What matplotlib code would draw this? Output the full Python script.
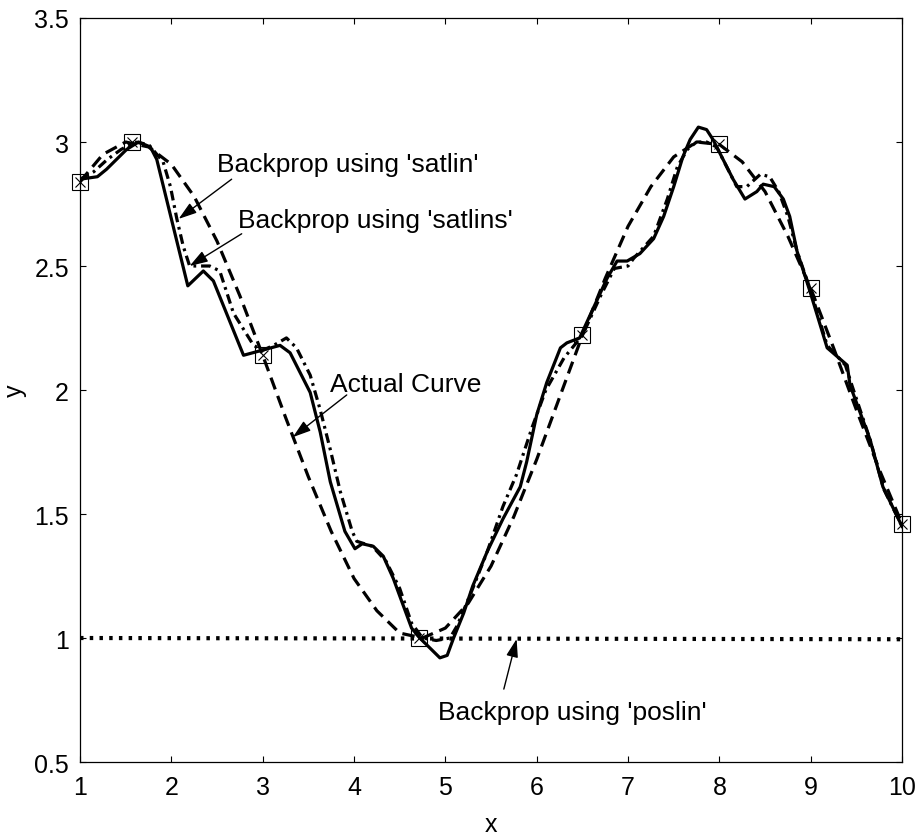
import matplotlib
matplotlib.use("Agg")
import matplotlib.pyplot as plt

plt.rcParams['font.family'] = ['Liberation Sans', 'DejaVu Sans']
plt.rcParams['lines.scale_dashes'] = False

# actual curve, sampled every 0.25
actual_x = [1.0, 1.25, 1.5, 1.75, 2.0, 2.25, 2.5, 2.75, 3.0, 3.25, 3.5, 3.75,
            4.0, 4.25, 4.5, 4.75, 5.0, 5.25, 5.5, 5.75, 6.0, 6.25, 6.5, 6.75,
            7.0, 7.25, 7.5, 7.75, 8.0, 8.25, 8.5, 8.75, 9.0, 9.25, 9.5, 9.75, 10.0]
actual_y = [2.84, 2.95, 3.0, 2.98, 2.91, 2.78, 2.60, 2.38, 2.14, 1.89, 1.65, 1.43,
            1.24, 1.11, 1.02, 1.0, 1.04, 1.14, 1.29, 1.49, 1.72, 1.97, 2.22, 2.45,
            2.66, 2.82, 2.94, 3.0, 2.99, 2.92, 2.80, 2.62, 2.41, 2.17, 1.92, 1.68, 1.46]

# network output with 'satlins' (solid)
satlins_x = [1.0, 1.19, 1.29, 1.40, 1.51, 1.64, 1.77, 1.84, 2.18, 2.35, 2.46, 2.79,
             3.19, 3.30, 3.52, 3.63, 3.74, 3.90, 4.01, 4.09, 4.21, 4.32, 4.43, 4.52,
             4.63, 4.72, 4.83, 4.94, 5.02, 5.09, 5.20, 5.30, 5.46, 5.63, 5.82, 5.89,
             6.0, 6.11, 6.26, 6.33, 6.47, 6.62, 6.77, 6.88, 6.99, 7.13, 7.28, 7.39,
             7.50, 7.60, 7.68, 7.77, 7.86, 7.93, 8.04, 8.15, 8.28, 8.41, 8.48, 8.60,
             8.70, 8.77, 8.85, 8.99, 9.18, 9.40, 9.43, 9.65, 9.79, 10.0]
satlins_y = [2.85, 2.86, 2.89, 2.93, 2.97, 3.0, 2.98, 2.93, 2.42, 2.48, 2.44, 2.14,
             2.18, 2.15, 1.99, 1.83, 1.63, 1.43, 1.36, 1.38, 1.37, 1.33, 1.24, 1.15,
             1.04, 1.0, 0.96, 0.92, 0.93, 1.0, 1.10, 1.21, 1.35, 1.48, 1.61, 1.71,
             1.90, 2.03, 2.17, 2.19, 2.21, 2.33, 2.45, 2.52, 2.52, 2.55, 2.61, 2.70,
             2.82, 2.94, 3.01, 3.06, 3.05, 3.01, 2.93, 2.85, 2.77, 2.80, 2.83, 2.82,
             2.77, 2.70, 2.56, 2.40, 2.17, 2.10, 2.02, 1.80, 1.61, 1.45]

# network output with 'satlin' (dash-dot)
satlin_x = [1.0, 1.15, 1.30, 1.45, 1.60, 1.75, 1.91, 1.99, 2.06, 2.13, 2.20, 2.35,
            2.42, 2.53, 2.68, 2.90, 3.0, 3.12, 3.26, 3.37, 3.52, 3.63, 3.74, 3.85,
            3.98, 4.03, 4.20, 4.35, 4.50, 4.63, 4.75, 4.90, 5.05, 5.13, 5.30, 5.46,
            5.63, 5.78, 5.95, 6.10, 6.30, 6.50, 6.70, 6.85, 7.0, 7.06, 7.28, 7.43,
            7.54, 7.65, 7.75, 7.86, 7.97, 8.08, 8.19, 8.30, 8.45, 8.55, 8.65, 8.75,
            8.85, 9.0, 9.18, 9.38, 9.45, 9.65, 9.80, 10.0]
satlin_y = [2.85, 2.88, 2.93, 2.97, 3.0, 2.99, 2.92, 2.82, 2.69, 2.58, 2.50, 2.50,
            2.50, 2.48, 2.31, 2.18, 2.16, 2.18, 2.21, 2.17, 2.06, 1.92, 1.76, 1.59,
            1.43, 1.39, 1.37, 1.31, 1.20, 1.06, 1.0, 0.99, 1.0, 1.05, 1.20, 1.35,
            1.53, 1.66, 1.85, 2.0, 2.13, 2.22, 2.38, 2.49, 2.50, 2.53, 2.62, 2.77,
            2.90, 2.97, 3.0, 3.0, 2.98, 2.90, 2.82, 2.82, 2.87, 2.86, 2.80, 2.70,
            2.56, 2.40, 2.18, 2.10, 2.02, 1.80, 1.60, 1.45]

# network output with 'poslin' (dotted, flat)
poslin_x = [1.0, 10.0]
poslin_y = [1.0, 0.995]

# training points
train_x = [1.0, 1.57, 3.0, 4.71, 6.5, 8.0, 9.0, 10.0]
train_y = [2.84, 3.0, 2.14, 1.0, 2.22, 2.99, 2.41, 1.46]

fig = plt.figure(figsize=(9.23, 8.37), dpi=100)
ax = fig.add_axes([0.0867, 0.0884, 0.8906, 0.8889])

ax.plot(actual_x, actual_y, color='k', lw=2.3, linestyle=(0, (9, 5)))
ax.plot(satlins_x, satlins_y, color='k', lw=2.3, linestyle='-')
ax.plot(satlin_x, satlin_y, color='k', lw=2.3, linestyle=(0, (7, 3.5, 2, 3.5)))
ax.plot(poslin_x, poslin_y, color='k', lw=3, linestyle=(0, (2.5, 4.5)),
        dash_capstyle='butt')
# square + cross markers on the training points, allowed to spill over the frame
ax.plot(train_x, train_y, linestyle='none', marker='s', ms=11,
        mfc='none', mec='k', mew=0.8, clip_on=False, zorder=5)
ax.plot(train_x, train_y, linestyle='none', marker='x', ms=7, mec='k',
        mew=0.8, clip_on=False, zorder=5)

arrow = dict(arrowstyle='-|>,head_length=0.55,head_width=0.18', color='k',
             lw=1, mutation_scale=20, shrinkA=0, shrinkB=0)
labels = [
    ("Backprop using 'satlin'", (2.50, 2.883), (2.66, 2.85), (2.08, 2.69)),
    ("Backprop using 'satlins'", (2.73, 2.657), (2.77, 2.63), (2.20, 2.50)),
    ("Actual Curve", (3.74, 1.996), (3.92, 1.98), (3.33, 1.81)),
    ("Backprop using 'poslin'", (4.92, 0.673), (5.64, 0.794), (5.78, 0.996)),
]
for txt, pos, tail, tip in labels:
    ax.text(pos[0], pos[1], txt, fontsize=19, va='baseline', ha='left')
    ax.annotate('', xy=tip, xytext=tail, arrowprops=arrow)

ax.set_xlim(1, 10)
ax.set_ylim(0.5, 3.5)
ax.set_xticks(range(1, 11))
ax.set_yticks([0.5, 1, 1.5, 2, 2.5, 3, 3.5])
ax.set_yticklabels(['0.5', '1', '1.5', '2', '2.5', '3', '3.5'])
ax.tick_params(direction='in', length=4.5, width=0.8, top=True, right=True,
               labelsize=18, pad=8)
ax.tick_params(axis='x', pad=9)
for s in ax.spines.values():
    s.set_linewidth(0.9)
ax.set_xlabel('x', fontsize=18, labelpad=10)
ax.set_ylabel('y', fontsize=18, labelpad=5)

fig.savefig('out.png', dpi=100)
